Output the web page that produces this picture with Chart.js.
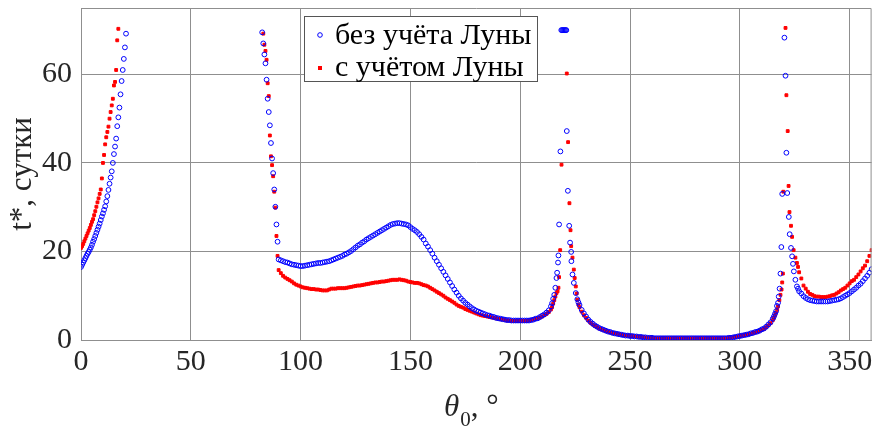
<!DOCTYPE html>
<html><head><meta charset="utf-8">
<script src="https://cdn.jsdelivr.net/npm/chart.js@4.4.1/dist/chart.umd.min.js"></script>
<style>html,body{margin:0;padding:0;background:#fff}#wrap{width:875px;height:435px;position:relative}</style>
</head><body><div id="wrap"><canvas id="c"></canvas></div>
<script>
// ---- data (θ0 in degrees, t* in days) ----
const thetaRise = [0,0.5,1,1.5,2,2.5,3,3.5,4,4.5,5,5.5,6,6.5,7,7.5,8,8.5,9,9.5,10,10.5,11,11.5,12,12.5,13,13.5,14,14.5,15,15.5,16,16.5,17,17.5,18,18.5,19,19.5,20,20.5];
const blueRise = [16.5,17.0,17.5,18.0,18.5,19.0,19.5,19.9,20.4,20.9,21.5,22.2,22.8,23.5,24.2,24.9,25.6,26.3,27.1,27.9,28.6,29.4,30.2,31.3,32.5,33.9,35.3,36.7,38.1,40.0,42.0,43.7,45.5,48.3,50.3,52.5,55.5,58.5,61.0,63.5,66.1,69.2];
const redRise = [20.8,21.2,21.7,22.3,22.9,23.5,24.1,24.7,25.3,26.0,26.7,27.3,28.2,29.1,30.1,31.1,32.0,33.0,34.0,36.5,40.0,41.8,44.2,45.8,47.0,48.2,50.0,51.5,53.0,54.5,57.5,58.3,61.0,67.7,70.3,null,null,null,null,null,null,null];

const thetaDrop = [82.5,83,83.5,84,84.5,85,85.5,86,86.5,87,87.5,88,88.5,89,89.5];
const blueDrop = [69.5,67.0,64.5,62.5,58.8,54.5,51.5,48.5,44.5,41.0,37.7,34.0,30.1,26.1,22.2];
const redDrop = [null,69.2,66.7,65.3,63.3,58.0,55.1,46.2,41.5,39.5,37.0,33.5,29.9,23.5,19.0];

const thetaMid = [90,91,92,93,94,95,96,97,98,99,100,101,102,103,104,105,106,107,108,109,110,111,112,113,114,115,116,117,118,119,120,121,122,123,124,125,126,127,128,129,130,131,132,133,134,135,136,137,138,139,140,141,142,143,144,145,146,147,148,149,150,151,152,153,154,155,156,157,158,159,160,161,162,163,164,165,166,167,168,169,170,171,172,173,174,175,176,177,178,179,180,181,182,183,184,185,186,187,188,189,190,191,192,193,194,195,196,197,198,199,200,201,202,203,204,205,206,207,208,209,210,211,212,213,214];
const blueMid = [18.2,18.0,17.8,17.6,17.5,17.3,17.1,17.0,16.9,16.8,
16.7,16.7,16.8,16.9,17.0,17.1,17.2,17.3,17.4,17.4,
17.5,17.6,17.7,17.8,18.0,18.2,18.4,18.6,18.8,19.0,
19.3,19.5,19.8,20.1,20.5,20.9,21.3,21.6,22.0,22.3,
22.7,23.0,23.3,23.6,23.9,24.2,24.5,24.8,25.1,25.4,
25.7,26.0,26.2,26.3,26.4,26.4,26.3,26.2,26.1,25.9,
25.5,25.1,24.8,24.4,23.9,23.3,22.7,21.8,21.1,20.3,
19.5,18.6,17.8,17.0,16.2,15.4,14.6,13.8,13.0,12.2,
11.4,10.7,10.0,9.4,8.9,8.4,8.0,7.6,7.2,6.9,
6.6,6.4,6.2,6.0,5.8,5.6,5.5,5.3,5.2,5.0,
4.9,4.8,4.7,4.6,4.5,4.5,4.4,4.4,4.4,4.4,
4.4,4.4,4.4,4.4,4.4,4.5,4.6,4.8,4.9,5.2,
5.5,5.8,6.2,6.7,7.6];
const redMid = [15.8,15.1,14.5,14.1,13.8,13.5,13.2,12.8,12.5,12.3,
12.1,11.9,11.8,11.7,11.6,11.5,11.5,11.4,11.4,11.3,
11.2,11.2,11.2,11.4,11.6,11.6,11.6,11.7,11.7,11.7,
11.7,11.8,11.9,12.0,12.1,12.2,12.3,12.3,12.4,12.5,
12.6,12.7,12.8,12.9,13.0,13.0,13.1,13.2,13.2,13.3,
13.4,13.5,13.6,13.6,13.6,13.7,13.6,13.5,13.4,13.2,
13.1,13.0,12.9,12.9,12.8,12.6,12.4,12.3,12.1,11.8,
11.5,11.2,10.9,10.6,10.3,10.0,9.6,9.3,9.0,8.7,
8.4,8.0,7.7,7.5,7.3,7.0,6.8,6.6,6.4,6.2,
6.0,5.8,5.6,5.5,5.4,5.3,5.2,5.1,5.0,4.9,
4.8,4.7,4.6,4.5,4.4,4.4,4.3,4.3,4.3,4.3,
4.3,4.3,4.3,4.3,4.4,4.5,4.6,4.8,4.9,5.1,
5.3,5.6,5.9,6.3,6.9];

const thetaPeak1Blue = [214.5,215,215.5,216,216.5,216.8,217.2,217.4,217.7,218.3,218.7,219.1,219.5,219.9,220.3,220.7,221.0,221.2,221.7,222.3,222.7,223.2,223.3,223.8,224.4,225.3,226.0,226.5];
const bluePeak1 = [8.3,9.3,10.2,11.8,14.0,15.2,17.5,19.1,26.1,42.6,70,70,70,70,70,70,70,47.2,33.7,25.8,22.0,19.9,17.8,14.8,12.9,10.6,9.2,8.5];
const thetaPeak1Red = [214.5,215,215.5,216,216.5,217,217.4,217.7,218.2,218.8,221.2,221.8,222.4,222.9,223.2,223.8,224.4,224.8,225.3,225.7,226.0,226.5];
const redPeak1 = [7.4,8.2,9.0,9.8,10.6,11.0,11.8,14.2,20.3,39.6,60.2,44.7,30.9,24.8,21.2,18.6,15.9,14.0,12.1,10.5,9.1,8.0];

const thetaLow = [227,228,229,230,231,232,233,234,235,236,237,238,239,240,241,242,243,244,245,246,247,248,249,250,251,252,253,254,255,256,257,258,259,260,261,262,263,264,265,266,267,268,269,270,271,272,273,274,275,276,277,278,279,280,281,282,283,284,285,286,287,288,289,290,291,292,293,294,295,296,297,298,299,300,301,302,303,304,305,306,307,308,309,310,311,312,313,314,315];
const blueLow = [7.9,6.8,6.0,5.3,4.6,4.1,3.7,3.3,3.0,2.7,
2.5,2.3,2.1,1.9,1.8,1.6,1.5,1.4,1.3,1.2,
1.1,1.0,1.0,0.9,0.9,0.8,0.8,0.7,0.7,0.6,
0.6,0.5,0.5,0.5,0.4,0.4,0.4,0.4,0.4,0.4,
0.4,0.4,0.4,0.4,0.4,0.4,0.4,0.4,0.4,0.4,
0.4,0.4,0.4,0.4,0.4,0.4,0.4,0.4,0.4,0.4,
0.4,0.4,0.4,0.4,0.4,0.4,0.4,0.4,0.5,0.5,
0.6,0.7,0.8,0.9,1.0,1.1,1.2,1.3,1.5,1.6,
1.8,1.9,2.1,2.4,2.6,3.0,3.5,4.0,4.8];
const redLow = [7.4,6.4,5.6,5.0,4.4,3.9,3.5,3.2,2.9,2.6,
2.4,2.2,2.0,1.9,1.7,1.6,1.5,1.4,1.3,1.2,
1.1,1.0,1.0,0.9,0.9,0.8,0.8,0.7,0.7,0.6,
0.6,0.5,0.5,0.5,0.4,0.4,0.4,0.4,0.4,0.4,
0.4,0.4,0.4,0.4,0.4,0.4,0.4,0.4,0.4,0.4,
0.4,0.4,0.4,0.4,0.4,0.4,0.4,0.4,0.4,0.4,
0.4,0.4,0.4,0.4,0.4,0.4,0.4,0.4,0.5,0.5,
0.6,0.7,0.8,0.9,1.0,1.1,1.2,1.3,1.4,1.6,
1.7,1.9,2.1,2.3,2.5,2.9,3.3,3.8,4.5];

const thetaPeak2Blue = [315.5,316,316.5,316.9,317.4,317.7,318.1,318.5,318.9,319.3,320.3,320.8,321.2,321.6,322.3,322.7,323.3,323.8,324.2,324.6,325.3,326.0,326.5];
const bluePeak2 = [5.3,5.9,6.5,7.7,8.4,9.8,11.6,15.0,21.0,33.0,68.3,59.7,42.3,33.2,27.8,23.9,20.8,18.9,17.2,15.5,13.6,12.1,11.6];
const thetaPeak2Red = [315.5,316,316.5,317,317.4,318,318.5,319,319.3,319.6,319.8,320.8,321.2,321.8,322.2,322.6,323.3,323.8,324.5,325.3,326.0,326.5];
const redPeak2 = [5.0,5.6,6.2,6.9,7.6,9.0,10.2,11.4,13.0,15.0,33.5,70.5,55.3,47.2,34.8,28.9,25.8,23.3,20.3,18.6,17.4,16.5];

const thetaTail = [327,328,329,330,331,332,333,334,335,336,337,338,339,340,341,342,343,344,345,346,347,348,349,350,351,352,353,354,355,356,357,358,359,360];
const blueTail = [11.0,10.5,9.9,9.5,9.2,9.0,8.9,8.8,8.7,8.7,8.7,8.7,8.7,8.7,8.8,8.9,9.0,9.1,9.2,9.4,9.7,10.0,10.3,10.6,11.0,11.4,11.8,12.3,12.7,13.3,13.9,14.5,15.2,16.0];
const redTail = [15.3,13.9,12.3,11.6,10.9,10.4,10.2,9.9,9.8,9.8,9.7,9.7,9.7,9.8,9.9,10.1,10.2,10.5,10.8,11.2,11.5,11.8,12.3,12.8,13.3,13.6,14.2,14.8,15.5,16.2,16.8,17.8,19.0,20.3];

const seriesNames = ['без учёта Луны', 'с учётом Луны'];
const xTicks = [0,50,100,150,200,250,300,350];
const yTicks = [0,20,40,60];

// ---- build point lists ----
function pairs(xs, ys){ const out=[]; for(let i=0;i<xs.length;i++){ if(ys[i]!==null) out.push({x:xs[i], y:ys[i]}); } return out; }
const bluePts = [].concat(pairs(thetaRise,blueRise), pairs(thetaDrop,blueDrop), pairs(thetaMid,blueMid), pairs(thetaPeak1Blue,bluePeak1), pairs(thetaLow,blueLow), pairs(thetaPeak2Blue,bluePeak2), pairs(thetaTail,blueTail));
const redPts = [].concat(pairs(thetaRise,redRise), pairs(thetaDrop,redDrop), pairs(thetaMid,redMid), pairs(thetaPeak1Red,redPeak1), pairs(thetaLow,redLow), pairs(thetaPeak2Red,redPeak2), pairs(thetaTail,redTail));

const FONT = "'Liberation Serif', 'Times New Roman', serif";
const GRID = '#8f8f8f';
const TXT = '#262626';

const decor = {
  id: 'decor',
  afterDraw(chart){
    const ctx = chart.ctx, a = chart.chartArea;
    ctx.save();
    // frame
    ctx.strokeStyle = GRID; ctx.lineWidth = 1;
    ctx.beginPath();
    ctx.moveTo(a.left+0.5, a.top+0.5); ctx.lineTo(a.right-0.5, a.top+0.5); ctx.lineTo(a.right-0.5, a.bottom);
    ctx.stroke();
    // x title: θ0, °
    ctx.fillStyle = TXT; ctx.textBaseline = 'alphabetic'; ctx.textAlign = 'left';
    let x = 444, base = 416;
    ctx.font = 'italic 31px ' + FONT; ctx.fillText('θ', x, base); x += ctx.measureText('θ').width + 1;
    ctx.font = '21px ' + FONT; ctx.fillText('0', x, base + 10); x += ctx.measureText('0').width;
    ctx.font = '31px ' + FONT; ctx.fillText(', °', x, base);
    // legend
    const bx = 304.5, by = 16.5, bw = 233, bh = 65;
    ctx.fillStyle = '#fff'; ctx.fillRect(bx, by, bw, bh);
    ctx.strokeStyle = '#555'; ctx.strokeRect(bx, by, bw, bh);
    ctx.strokeStyle = '#0000ff'; ctx.lineWidth = 1;
    ctx.beginPath(); ctx.arc(320, 35, 2.3, 0, Math.PI*2); ctx.stroke();
    ctx.fillStyle = '#ff0000'; ctx.fillRect(318, 66, 4, 4);
    ctx.fillStyle = '#000'; ctx.font = '30px ' + FONT;
    ctx.fillText(seriesNames[0], 335, 44);
    ctx.fillText(seriesNames[1], 335, 76);
    ctx.restore();
  }
};

new Chart(document.getElementById('c'), {
  type: 'scatter',
  data: { datasets: [
    { label: seriesNames[0], data: bluePts, pointStyle: 'circle', pointRadius: 2.4, pointBorderWidth: 1,
      borderColor: '#0000ff', backgroundColor: 'rgba(0,0,0,0)', pointHoverRadius: 2.4 },
    { label: seriesNames[1], data: redPts, pointStyle: 'rect', pointRadius: 2.0, pointBorderWidth: 1,
      borderColor: '#ff0000', backgroundColor: '#ff0000', pointHoverRadius: 2.0 }
  ]},
  options: {
    responsive: true, maintainAspectRatio: false, animation: false,
    layout: { padding: { left: 0, right: 2, top: 8, bottom: 0 } },
    plugins: { legend: { display: false }, tooltip: { enabled: false } },
    scales: {
      x: { type: 'linear', min: 0, max: 360,
        afterBuildTicks(s){ s.ticks = xTicks.map(v => ({value: v})); },
        ticks: { font: { family: FONT, size: 30 }, color: TXT, padding: 4, maxRotation: 0, autoSkip: false },
        grid: { color: GRID, drawTicks: false, lineWidth: 1 },
        border: { display: true, color: GRID },
        afterFit(s){ s.height = 95; s.paddingLeft = 0; s.paddingRight = 0; } },
      y: { min: 0, max: 75,
        afterBuildTicks(s){ s.ticks = yTicks.map(v => ({value: v})); },
        ticks: { font: { family: FONT, size: 30 }, color: TXT, padding: 9 },
        grid: { color: GRID, drawTicks: false, lineWidth: 1 },
        border: { display: true, color: GRID },
        title: { display: true, text: 't*, сутки', font: { family: FONT, size: 31 }, color: TXT, padding: { top: 4, bottom: 0 } },
        afterFit(s){ s.width = 81; s.paddingTop = 0; s.paddingBottom = 0; } }
    }
  },
  plugins: [decor]
});
</script></body></html>
